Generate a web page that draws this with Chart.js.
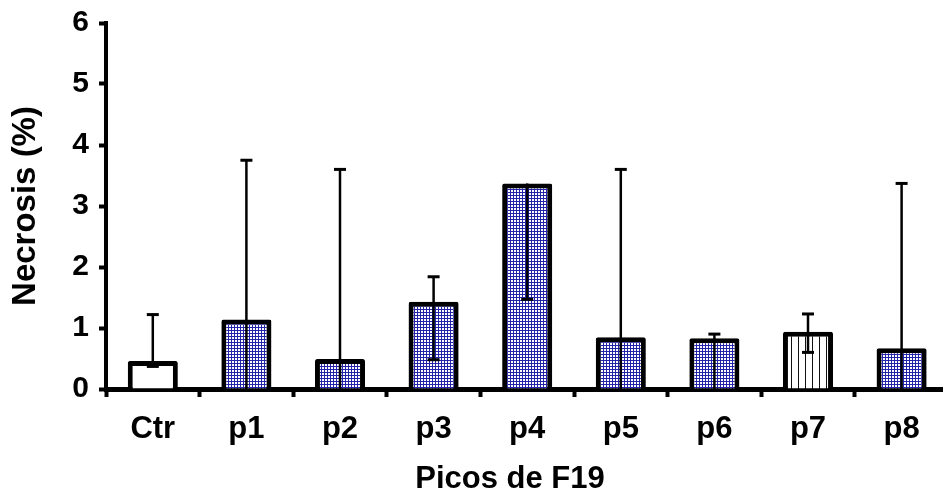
<!DOCTYPE html>
<html>
<head>
<meta charset="utf-8">
<script src="https://cdn.jsdelivr.net/npm/chart.js@4"></script>
<style>
  html, body { margin: 0; padding: 0; background: #fff; overflow: hidden; }
  #wrap { width: 960px; height: 493px; position: relative; }
</style>
</head>
<body>
<div id="wrap"><canvas id="chart"></canvas></div>
<script>
// Necrosis (%) per F19 peak, mean with the error range drawn above/below
const categories = ['Ctr', 'p1', 'p2', 'p3', 'p4', 'p5', 'p6', 'p7', 'p8'];
const necrosis   = [0.46, 1.14, 0.49, 1.43, 3.37, 0.85, 0.83, 0.94, 0.67];
const errUpper   = [1.22, 3.75, 3.60, 1.84, null, 3.60, 0.90, 1.23, 3.37];
const errLower   = [0.37, 0,    0,    0.48, 1.47, 0,    0,    0.60, 0];
const yTicks     = [0, 1, 2, 3, 4, 5, 6];

const FONT = 'Liberation Sans, Arial, Helvetica, sans-serif';
const canvas = document.getElementById('chart');
const ctx2d = canvas.getContext('2d');

// Fine blue grid fill
function gridPattern() {
  const c = document.createElement('canvas');
  c.width = 3; c.height = 3;
  const g = c.getContext('2d');
  g.fillStyle = '#ffffff'; g.fillRect(0, 0, 3, 3);
  g.fillStyle = '#2424a8';
  g.fillRect(0, 0, 3, 1);
  g.fillRect(0, 0, 1, 3);
  return ctx2d.createPattern(c, 'repeat');
}
// Vertical black hatching
function stripePattern() {
  const c = document.createElement('canvas');
  c.width = 7; c.height = 4;
  const g = c.getContext('2d');
  g.fillStyle = '#ffffff'; g.fillRect(0, 0, 7, 4);
  g.fillStyle = '#111111';
  g.fillRect(0, 0, 1, 4);
  return ctx2d.createPattern(c, 'repeat');
}
const fillGrid = gridPattern();
const fillStripe = stripePattern();

function barFill(context) {
  const name = categories[context.dataIndex];
  if (name === 'Ctr') return '#ffffff';
  if (name === 'p7') return fillStripe;
  return fillGrid;
}

const errorBars = {
  id: 'errorBars',
  afterDatasetsDraw(chart) {
    const { ctx, scales: { y } } = chart;
    const meta = chart.getDatasetMeta(0);
    ctx.save();
    ctx.strokeStyle = '#000';
    ctx.lineCap = 'butt';
    meta.data.forEach((bar, i) => {
      const x = bar.x;
      const hi = errUpper[i] != null ? errUpper[i] : necrosis[i];
      const yTop = y.getPixelForValue(hi);
      const yBot = y.getPixelForValue(errLower[i]);
      ctx.lineWidth = 2.5;
      ctx.beginPath();
      ctx.moveTo(x, yTop);
      ctx.lineTo(x, yBot);
      ctx.stroke();
      ctx.lineWidth = 3;
      const half = 6;
      if (errUpper[i] != null) {
        ctx.beginPath();
        ctx.moveTo(x - half, yTop);
        ctx.lineTo(x + half, yTop);
        ctx.stroke();
      }
      if (errLower[i] > 0) {
        ctx.beginPath();
        ctx.moveTo(x - half, yBot);
        ctx.lineTo(x + half, yBot);
        ctx.stroke();
      }
    });
    ctx.restore();
  }
};

new Chart(canvas, {
  type: 'bar',
  data: {
    labels: categories,
    datasets: [{
      data: necrosis,
      backgroundColor: barFill,
      borderColor: '#000',
      borderWidth: 5,
      borderRadius: 2,
      barPercentage: 0.535,
      categoryPercentage: 1
    }]
  },
  options: {
    responsive: true,
    maintainAspectRatio: false,
    animation: false,
    devicePixelRatio: 1,
    layout: { padding: { top: 23, right: 11.6, bottom: 0, left: 0 } },
    plugins: { legend: { display: false }, tooltip: { enabled: false } },
    scales: {
      x: {
        afterFit(scale) {
          scale.height = 104;
          scale.paddingLeft = 0;
          scale.paddingRight = 0;
        },
        grid: {
          offset: true,
          drawOnChartArea: false,
          drawTicks: true,
          tickLength: 8,
          tickWidth: 4,
          tickColor: '#000'
        },
        border: { display: true, color: '#000', width: 5 },
        ticks: {
          color: '#000',
          padding: 14,
          font: { family: FONT, weight: 'bold', size: 31 }
        },
        title: {
          display: true,
          // trailing spaces nudge the centred title slightly left of the axis middle
          text: 'Picos de F19    ',
          color: '#000',
          padding: 0,
          font: { family: FONT, weight: 'bold', size: 31, lineHeight: 0.9 }
        }
      },
      y: {
        min: 0,
        max: 6,
        afterFit(scale) {
          scale.width = 106;
          scale.paddingTop = 0;
          scale.paddingBottom = 0;
        },
        afterBuildTicks(scale) { scale.ticks = yTicks.map(v => ({ value: v })); },
        grid: {
          drawOnChartArea: false,
          drawTicks: true,
          tickLength: 7,
          tickWidth: 4,
          tickColor: '#000'
        },
        border: { display: true, color: '#000', width: 4 },
        ticks: {
          color: '#000',
          padding: 10,
          font: { family: FONT, weight: 'bold', size: 30 }
        },
        title: {
          display: true,
          text: 'Necrosis (%)',
          color: '#000',
          padding: { top: 6, bottom: 0 },
          font: { family: FONT, weight: 'bold', size: 33, lineHeight: 1.2 }
        }
      }
    }
  },
  plugins: [errorBars]
});
</script>
</body>
</html>
